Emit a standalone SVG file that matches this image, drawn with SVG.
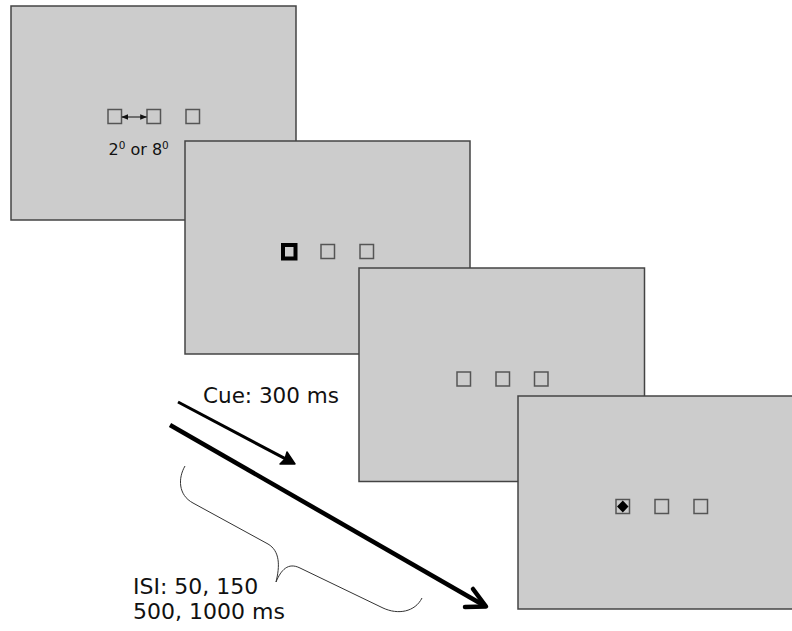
<svg xmlns="http://www.w3.org/2000/svg" width="792" height="631" viewBox="0 0 792 631">
<style>
.panel{fill:#cccccc;stroke:#444444;stroke-width:1.5}
.sq{fill:none;stroke:#555555;stroke-width:1.5}
.txt{font-family:"DejaVu Sans",Verdana,sans-serif;fill:#111111}
</style>
<defs>
<marker id="smallhead" viewBox="0 0 10 10" refX="9" refY="5" markerWidth="7" markerHeight="7" orient="auto-start-reverse" markerUnits="userSpaceOnUse">
<path d="M0,1 L10,5 L0,9 Z" fill="#111"/>
</marker>
</defs>
<rect width="792" height="631" fill="#ffffff"/>
<g id="panel1">
<rect class="panel" x="11" y="6" width="285" height="214"/>
<rect class="sq" x="108" y="109.5" width="13.5" height="14"/>
<rect class="sq" x="147" y="109.5" width="13.5" height="14"/>
<rect class="sq" x="186" y="109.5" width="13.5" height="14"/>
<line x1="122" y1="117" x2="146.5" y2="117" stroke="#111" stroke-width="1" marker-start="url(#smallhead)" marker-end="url(#smallhead)"/>
<text class="txt" x="108.5" y="155" font-size="16">2<tspan font-size="10.5" dy="-6.5">0</tspan><tspan dy="6.5"> or 8</tspan><tspan font-size="10.5" dy="-6.5">0</tspan></text>
</g>
<g id="panel2">
<rect class="panel" x="185" y="141" width="285" height="213"/>
<rect x="283" y="245" width="12.5" height="13.5" fill="none" stroke="#000" stroke-width="4"/>
<rect class="sq" x="321" y="244.5" width="13.5" height="14"/>
<rect class="sq" x="360" y="244.5" width="13.5" height="14"/>
</g>
<g id="panel3">
<rect class="panel" x="359" y="268" width="285.5" height="213.5"/>
<rect class="sq" x="457" y="372" width="13.5" height="14"/>
<rect class="sq" x="496" y="372" width="13.5" height="14"/>
<rect class="sq" x="534.5" y="372" width="13.5" height="14"/>
</g>
<g id="panel4">
<rect class="panel" x="518" y="396" width="290" height="213"/>
<rect class="sq" x="616" y="499.5" width="13.5" height="14"/>
<path d="M622.8,500.5 L628.5,506.5 L622.8,512.5 L617,506.5 Z" fill="#000"/>
<rect class="sq" x="655" y="499.5" width="13.5" height="14"/>
<rect class="sq" x="694" y="499.5" width="13.5" height="14"/>
</g>
<g id="connectors">
<line x1="178" y1="402" x2="287" y2="459.7" stroke="#000" stroke-width="3"/>
<path d="M295,464 L280,464 L285,459 L287,452 Z" fill="#000" stroke="#000" stroke-width="1.5" stroke-linejoin="round"/>
<line x1="170" y1="425" x2="485" y2="606" stroke="#000" stroke-width="4.5"/>
<path d="M473,589 L486,606.5 L465,607" fill="none" stroke="#000" stroke-width="4.5" stroke-linecap="round" stroke-linejoin="round"/>
<path d="M185,466 C178,478 178,495 193,503 L268,544 C280,551 280,566 276,582 C281,570 288,562 300,568 L383,608 C398,615 415,612 422,598" fill="none" stroke="#333" stroke-width="1"/>
</g>
<g id="labels">
<text class="txt" x="203" y="403" font-size="21.5">Cue: 300 ms</text>
<text class="txt" x="133" y="594" font-size="22">ISI: 50, 150</text>
<text class="txt" x="133" y="619" font-size="22">500, 1000 ms</text>
</g>
</svg>
